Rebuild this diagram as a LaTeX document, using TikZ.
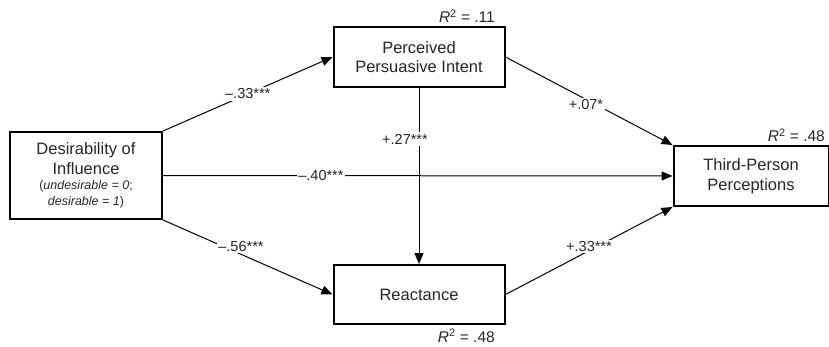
\documentclass[tikz,border=0pt]{standalone}
\usepackage{fontspec}
\setmainfont{Liberation Sans}
\usetikzlibrary{arrows.meta, positioning}

\begin{document}
\begin{tikzpicture}[x=1pt, y=-1pt, font=\fontsize{16.5}{19.5}\selectfont]
    \tikzstyle{box} = [draw, line width=2pt, rectangle, align=center, inner sep=0pt, text=black!85]
    \tikzstyle{path} = [line width=1pt, -{Triangle[length=11pt,width=9pt]}]
    \tikzstyle{coef} = [fill=white, inner sep=1.5pt, text=black!85, font=\fontsize{14.5}{18}\selectfont]
    \tikzstyle{rsq} = [inner sep=0pt, text=black!85, font=\fontsize{15.5}{18}\selectfont]

    \useasboundingbox (0,0) rectangle (829,347);

    \node[box, minimum width=152pt, minimum height=87pt] (des) at (86,175.5) {Desirability of\\Influence\\[-4pt]{\fontsize{12.5}{15.5}\selectfont(\textit{undesirable = 0};}\\[-4pt]{\fontsize{12.5}{15.5}\selectfont\textit{desirable = 1})}};
    \node[box, minimum width=171pt, minimum height=60pt] (ppi) at (419,57) {Perceived\\Persuasive Intent};
    \node[box, minimum width=171pt, minimum height=59pt] (rea) at (419,294.5) {Reactance};
    \node[box, minimum width=155pt, minimum height=60pt] (tpp) at (751,176) {Third-Person\\Perceptions};

    \node[rsq, anchor=base east] (rppi) at (495,23) {\textit{R}\textsuperscript{2} = .11};
    \node[rsq, anchor=base east] (rrea) at (495,342) {\textit{R}\textsuperscript{2} = .48};
    \node[rsq, anchor=base east] (rtpp) at (825,142) {\textit{R}\textsuperscript{2} = .48};

    \draw[path] (des.north east) -- node[coef] {–.33***} (ppi.west);
    \draw[path] (des) -- node[coef, pos=0.31] {–.40***} (tpp);
    \draw[path] (des.south east) -- node[coef, pos=0.46, yshift=8pt] {–.56***} (rea.west);
    \draw[path] (ppi) -- node[coef, pos=0.29, xshift=-14pt] {+.27***} (rea);
    \draw[path] (ppi.east) -- node[coef, xshift=-3pt, yshift=-4pt] {+.07*} (tpp.north west);
    \draw[path] (rea.east) -- node[coef, yshift=4pt] {+.33***} (tpp.south west);
\end{tikzpicture}
\end{document}
